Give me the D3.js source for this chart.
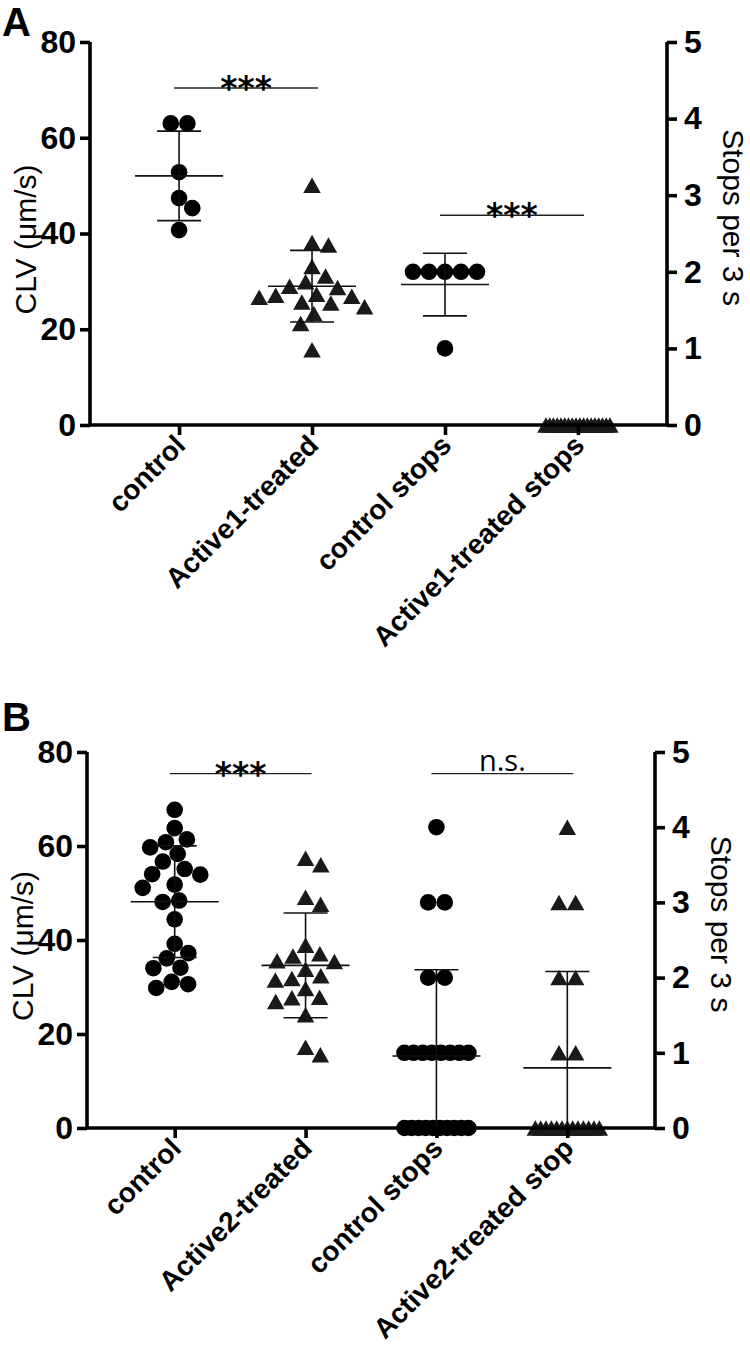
<!DOCTYPE html>
<html><head><meta charset="utf-8">
<script src="https://cdn.jsdelivr.net/npm/d3@7"></script>
<style>body{margin:0;background:#fff}svg{display:block}</style>
</head><body>
<svg id="chart" width="750" height="1361"></svg>
<script>
// ---------- DATA ----------
const categoriesA = ["control", "Active1-treated", "control stops", "Active1-treated stops"];
const controlA = [63.0, 63.0, 52.8, 47.4, 45.3, 40.7];
const active1A = [50.1, 37.6, 38.1, 33.1, 31.1, 29.9, 28.7, 29.0, 27.1, 26.7, 26.9, 27.3, 25.5, 25.7, 24.7, 23.3, 21.2, 15.7];
const controlStopsA = [2, 2, 2, 2, 2, 1];
const active1StopsA = [0, 0, 0, 0, 0, 0, 0, 0, 0, 0, 0, 0, 0, 0, 0, 0, 0, 0];

const categoriesB = ["control", "Active2-treated", "control stops", "Active2-treated stop"];
const controlB = [67.7, 63.8, 61.4, 59.7, 60.8, 58.3, 56.7, 54.0, 53.9, 55.1, 51.8, 51.1, 48.4, 48.1, 44.4, 39.2, 37.2, 36.1, 34.1, 34.0, 31.1, 29.8, 30.6];
const active2B = [57.4, 56.0, 49.1, 47.6, 37.1, 38.9, 36.6, 35.6, 35.4, 33.8, 31.8, 31.5, 32.4, 29.7, 27.8, 26.9, 27.7, 24.1, 15.6, 17.2];
const controlStopsB = [4, 3, 3, 2, 2, 1, 1, 1, 1, 1, 1, 1, 1, 0, 0, 0, 0, 0, 0, 0, 0, 0, 0];
const active2StopsB = [4, 3, 3, 2, 2, 1, 1, 0, 0, 0, 0, 0, 0, 0, 0, 0, 0, 0, 0, 0];

const leftTicks = [0, 20, 40, 60, 80];
const rightTicks = [0, 1, 2, 3, 4, 5];
const leftTitle = "CLV (\u03bcm/s)";
const rightTitle = "Stops per 3 s";

// significance annotations: [fromIndex, toIndex, label, level on left axis]
const sigA = [[0, 1, "***", 70.4], [2, 3, "***", 43.8]];
const sigB = [[0, 1, "***", 75.4], [2, 3, "n.s.", 75.4]];

// ---------- DRAWING ----------
const svg = d3.select("#chart");
const FONT = "'Liberation Sans', Arial, sans-serif";
const TICKFONT = "'Liberation Sans Narrow', 'Arial Narrow', 'Liberation Sans', Arial, sans-serif";

function swarm(values, y, cx, d, maxHalf) {
  const pts = values.map(v => ({ v, y: y(v), dx: null }));
  const groups = d3.group(pts, p => p.v);
  for (const [, arr] of groups) {
    if (arr.length > 1) {
      const n = arr.length, step = Math.min(d, 2 * maxHalf / (n - 1));
      arr.forEach((p, i) => p.dx = (i - (n - 1) / 2) * step);
    }
  }
  const placed = pts.filter(p => p.dx !== null);
  const rest = pts.filter(p => p.dx === null).sort((a, b) => a.y - b.y);
  for (const p of rest) {
    const iv = [];
    for (const q of placed) {
      const dy = Math.abs(q.y - p.y);
      if (dy < d) { const w = Math.sqrt(d * d - dy * dy); iv.push([q.dx - w, q.dx + w]); }
    }
    const cands = [0];
    iv.forEach(([a, b]) => cands.push(a, b));
    cands.sort((a, b) => Math.abs(a) - Math.abs(b) || b - a);
    for (const c of cands) {
      if (!iv.some(([a, b]) => c > a + 1e-6 && c < b - 1e-6)) { p.dx = c; break; }
    }
    placed.push(p);
  }
  return pts.map(p => ({ v: p.v, x: cx + p.dx, y: p.y }));
}

function triPath(w, h) {
  return `M0,${-h / 2}L${w / 2},${h / 2}L${-w / 2},${h / 2}Z`;
}

function drawPanel(cfg) {
  const g = svg.append("g");
  const x = d3.scalePoint().domain(cfg.categories).range([cfg.left, cfg.right]).padding(0.67);
  const yL = d3.scaleLinear().domain([0, 80]).range([cfg.bottom, cfg.top]);
  const yR = d3.scaleLinear().domain([0, 5]).range([cfg.bottom, cfg.top]);

  // panel letter
  g.append("text").attr("x", 2).attr("y", cfg.letterY).attr("font-family", FONT)
    .attr("font-weight", "bold").attr("font-size", 40).text(cfg.letter);

  // series
  cfg.series.forEach((s, i) => {
    const cat = cfg.categories[i];
    const y = s.axis === "left" ? yL : yR;
    const cx = x(cat);
    const pts = swarm(s.values, y, cx, 16.6, 32);
    const mean = d3.mean(s.values), sd = d3.deviation(s.values);
    const sg = g.append("g");
    if (s.shape === "circle") {
      sg.selectAll("circle").data(pts).join("circle")
        .attr("cx", d => d.x).attr("cy", d => d.y).attr("r", 8.3).attr("fill", "#000");
    } else {
      sg.selectAll("path").data(pts).join("path")
        .attr("d", triPath(17.5, 15.5)).attr("transform", d => `translate(${d.x},${d.y})`)
        .attr("fill", "#1a1a1a");
    }
    // mean and SD
    const lo = Math.max(y.domain()[0], mean - sd), hi = mean + sd;
    const lg = g.append("g").attr("stroke", "#111").attr("stroke-width", 1.6);
    lg.append("line").attr("x1", cx - 44).attr("x2", cx + 44).attr("y1", y(mean)).attr("y2", y(mean));
    lg.append("line").attr("x1", cx).attr("x2", cx).attr("y1", y(lo)).attr("y2", y(hi));
    lg.append("line").attr("x1", cx - 22).attr("x2", cx + 22).attr("y1", y(hi)).attr("y2", y(hi));
    if (mean - sd >= y.domain()[0]) {
      lg.append("line").attr("x1", cx - 22).attr("x2", cx + 22).attr("y1", y(lo)).attr("y2", y(lo));
    }
  });

  // axes
  const axL = g.append("g").attr("transform", `translate(${cfg.left},0)`)
    .call(d3.axisLeft(yL).tickValues(leftTicks).tickSize(10).tickSizeOuter(0).tickPadding(4).tickFormat(d3.format("d")));
  const axR = g.append("g").attr("transform", `translate(${cfg.right},0)`)
    .call(d3.axisRight(yR).tickValues(rightTicks).tickSize(10).tickSizeOuter(0).tickPadding(7).tickFormat(d3.format("d")));
  const axB = g.append("g").attr("transform", `translate(0,${cfg.bottom})`)
    .call(d3.axisBottom(x).tickSize(10).tickSizeOuter(0).tickFormat(""));
  [axL, axR, axB].forEach(a => {
    a.select(".domain").attr("stroke", "#000").attr("stroke-width", 3.6);
    a.selectAll(".tick line").attr("stroke", "#000").attr("stroke-width", 3.6);
    a.selectAll("text").attr("font-family", TICKFONT).attr("font-weight", "bold")
      .attr("font-size", 32).attr("fill", "#000");
  });
  axB.select(".domain").attr("d", `M${cfg.left},0H${cfg.right}`);
  axL.select(".domain").attr("d", `M0,${cfg.bottom}V${cfg.top}`);
  axR.select(".domain").attr("d", `M0,${cfg.bottom}V${cfg.top}`);

  // category labels
  g.selectAll("text.cat").data(cfg.categories).join("text").attr("class", "cat")
    .attr("transform", d => `translate(${x(d) + 8},${cfg.bottom + 22}) rotate(-45)`)
    .attr("text-anchor", "end").attr("font-family", FONT).attr("font-weight", "bold")
    .attr("font-size", 28).text(d => d);

  // axis titles
  const mid = (cfg.top + cfg.bottom) / 2;
  g.append("text").attr("transform", `translate(${cfg.left - 54},${mid + 6}) rotate(-90)`)
    .attr("text-anchor", "middle").attr("font-family", FONT).attr("font-size", 30).text(leftTitle);
  g.append("text").attr("transform", `translate(${cfg.right + 56},${mid - 16}) rotate(90)`)
    .attr("text-anchor", "middle").attr("font-family", FONT).attr("font-size", 30).text(rightTitle);

  // significance
  cfg.sig.forEach(([a, b, label, lvl]) => {
    const x1 = x(cfg.categories[a]) - 5, x2 = x(cfg.categories[b]) + 6, yy = yL(lvl);
    g.append("line").attr("x1", x1).attr("x2", x2).attr("y1", yy).attr("y2", yy)
      .attr("stroke", "#222").attr("stroke-width", 1.4);
    if (label === "n.s.") {
      g.append("text").attr("x", (x1 + x2) / 2).attr("y", yy - 3).attr("text-anchor", "middle")
        .attr("font-family", "'Open Sans', sans-serif").attr("font-size", 29).text(label);
    } else {
      g.append("text").attr("x", (x1 + x2) / 2).attr("y", yy + 12).attr("text-anchor", "middle")
        .attr("font-family", "'DejaVu Sans', sans-serif").attr("font-weight", "bold")
        .attr("font-size", 33).text(label);
    }
  });
}

drawPanel({
  letter: "A", letterY: 36, categories: categoriesA, top: 42, bottom: 425, left: 90, right: 667, sig: sigA,
  series: [
    { values: controlA, axis: "left", shape: "circle" },
    { values: active1A, axis: "left", shape: "triangle" },
    { values: controlStopsA, axis: "right", shape: "circle" },
    { values: active1StopsA, axis: "right", shape: "triangle" }
  ]
});
drawPanel({
  letter: "B", letterY: 731, categories: categoriesB, top: 752, bottom: 1128, left: 87, right: 655, sig: sigB,
  series: [
    { values: controlB, axis: "left", shape: "circle" },
    { values: active2B, axis: "left", shape: "triangle" },
    { values: controlStopsB, axis: "right", shape: "circle" },
    { values: active2StopsB, axis: "right", shape: "triangle" }
  ]
});
</script>
</body></html>
